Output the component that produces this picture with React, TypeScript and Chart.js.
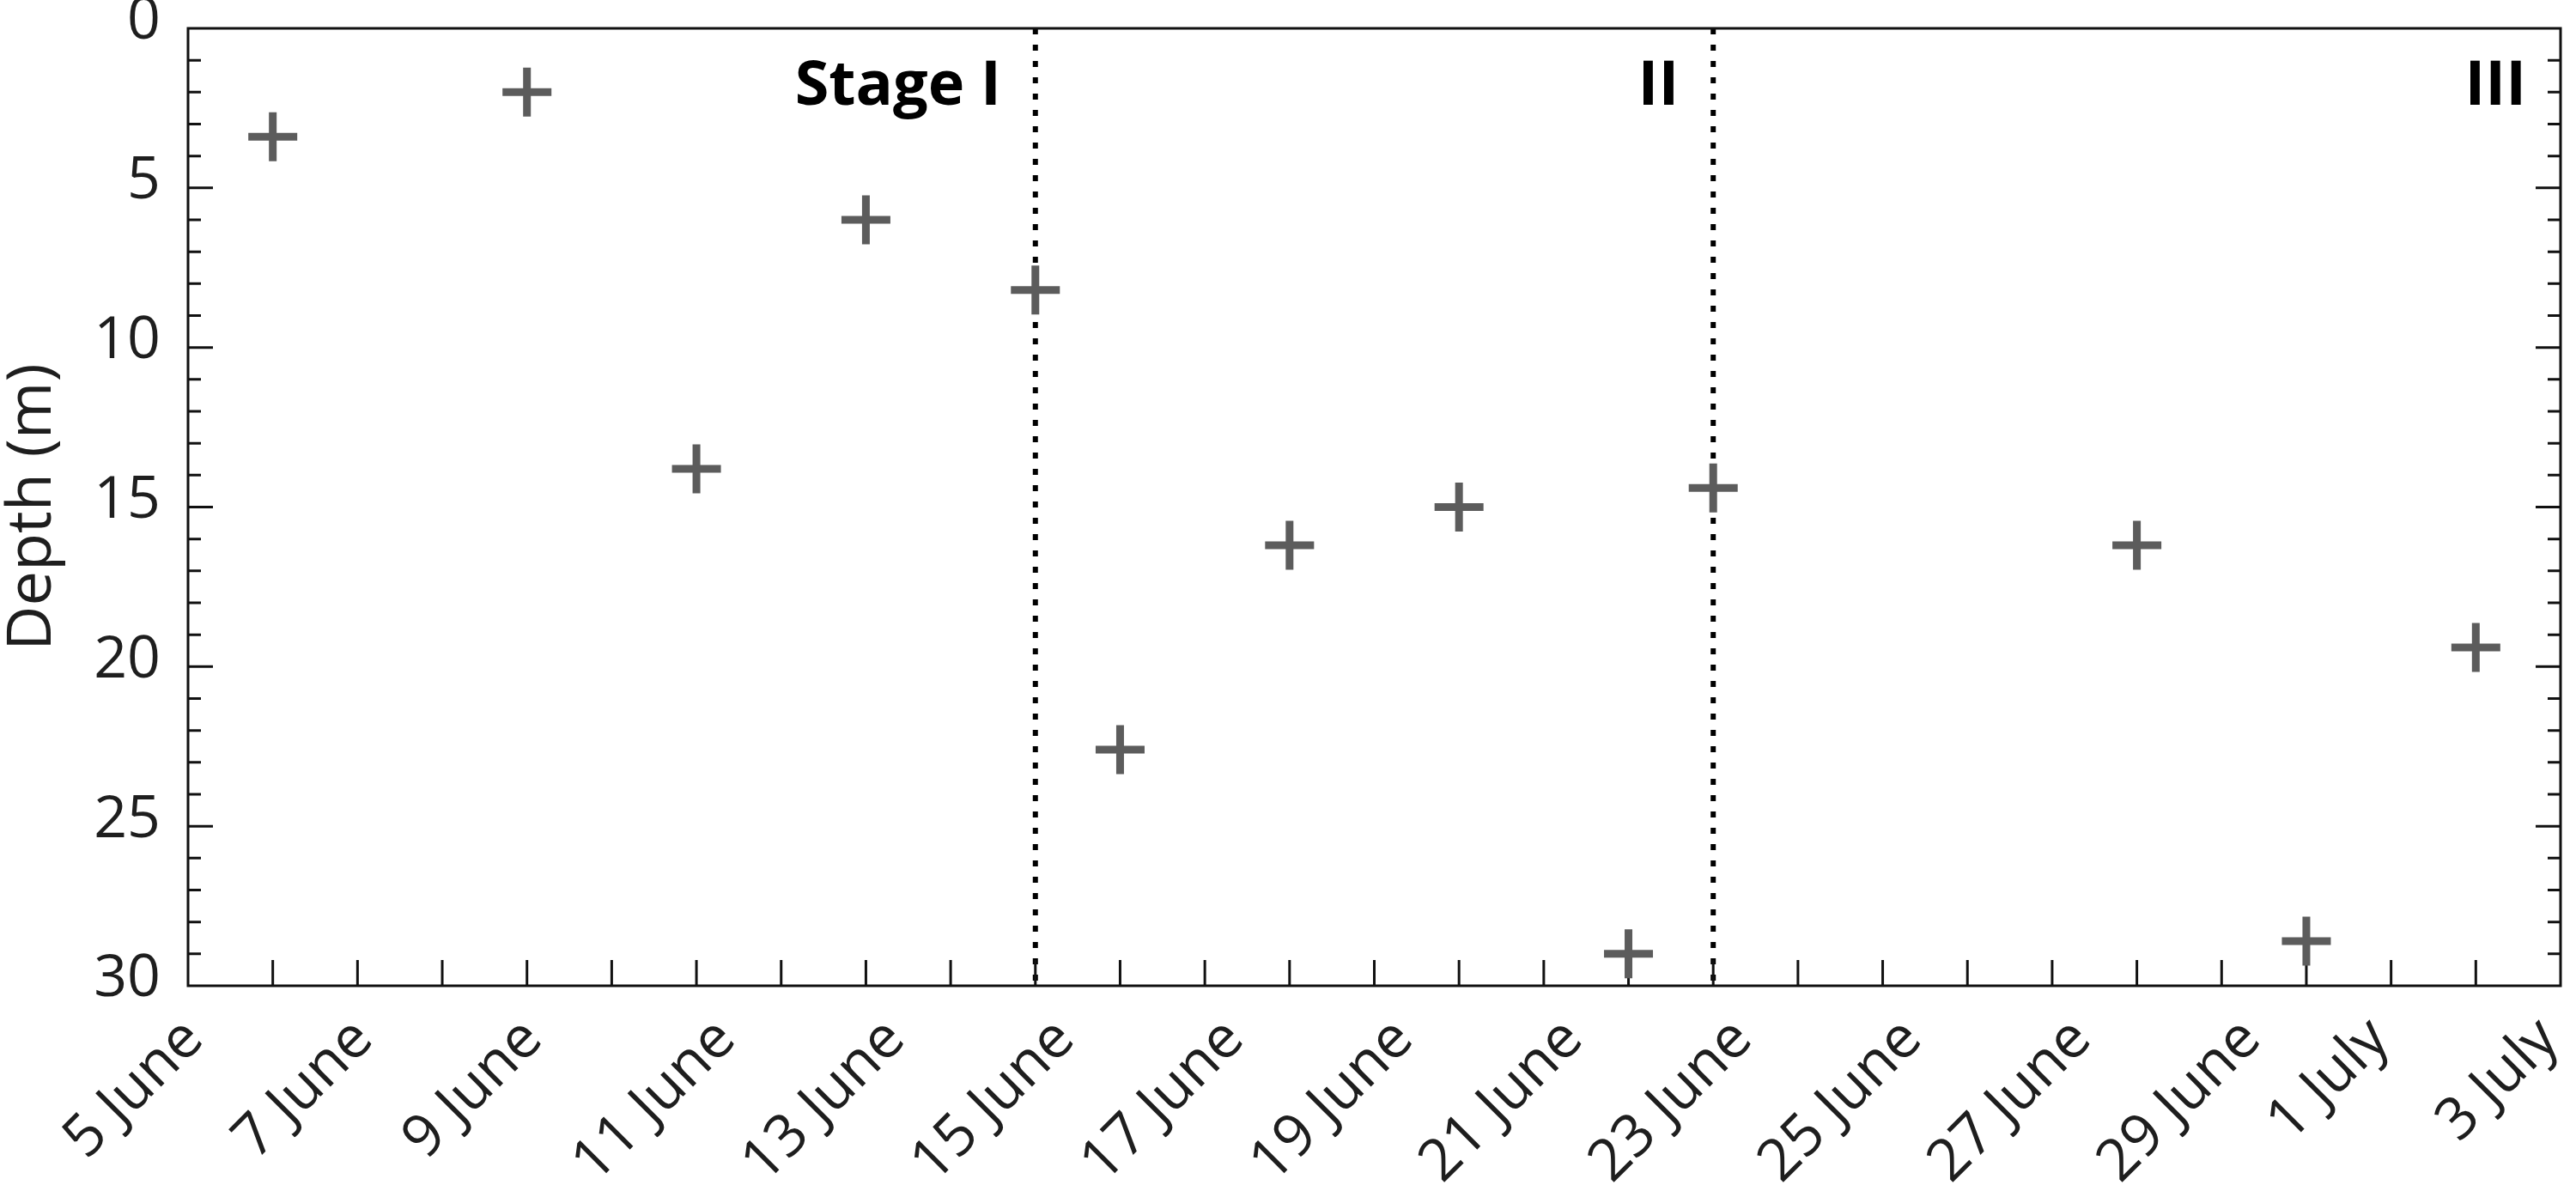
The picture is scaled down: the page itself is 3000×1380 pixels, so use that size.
import React, { useEffect, useRef } from 'react';
import { Chart, registerables } from 'chart.js';

Chart.register(...registerables);

// All calendar days on the x axis (category axis)
const days = [
  '5 June', '6 June', '7 June', '8 June', '9 June', '10 June', '11 June', '12 June',
  '13 June', '14 June', '15 June', '16 June', '17 June', '18 June', '19 June', '20 June',
  '21 June', '22 June', '23 June', '24 June', '25 June', '26 June', '27 June', '28 June',
  '29 June', '30 June', '1 July', '2 July', '3 July',
];

// Days that carry a tick label
const tickLabels = [
  '5 June', '7 June', '9 June', '11 June', '13 June', '15 June', '17 June', '19 June',
  '21 June', '23 June', '25 June', '27 June', '29 June', '1 July', '3 July',
];

// Sampling dates and depths (m)
const sampleDates = [
  '6 June', '9 June', '11 June', '13 June', '15 June', '16 June', '18 June',
  '20 June', '22 June', '23 June', '28 June', '30 June', '2 July',
];
const depths = [3.4, 2.0, 13.8, 6.0, 8.2, 22.6, 16.2, 15.0, 29.0, 14.4, 16.2, 28.6, 19.4];

// Stages
const stageNames = ['Stage I', 'II', 'III'];
const stageEnds = ['15 June', '23 June', '3 July'];
const stageBoundaries = ['15 June', '23 June'];

// Depth axis
const depthMin = 0;
const depthMax = 30;
const depthMajor = 5;
const depthMinor = 1;

const FONT = '"Open Sans", "Noto Sans", sans-serif';
const TEXT = '#1e1e1e';

const framePlugin = {
  id: 'frameAndStages',
  beforeDatasetsDraw(chart: any) {
    const { ctx, chartArea: a, scales } = chart;
    const xs = scales.x;
    const ys = scales.y;
    ctx.save();

    // dotted stage boundaries
    ctx.strokeStyle = '#000';
    ctx.lineWidth = 6;
    ctx.setLineDash([7, 12]);
    for (const b of stageBoundaries) {
      const px = xs.getPixelForValue(days.indexOf(b));
      ctx.beginPath();
      ctx.moveTo(px, a.top);
      ctx.lineTo(px, a.bottom);
      ctx.stroke();
    }
    ctx.setLineDash([]);

    // inward ticks
    ctx.strokeStyle = '#111';
    ctx.lineWidth = 3;
    ctx.beginPath();
    for (let i = 1; i < days.length - 1; i++) {
      const px = xs.getPixelForValue(i);
      ctx.moveTo(px, a.bottom);
      ctx.lineTo(px, a.bottom - 30);
    }
    for (let v = depthMin + depthMinor; v < depthMax; v += depthMinor) {
      const len = v % depthMajor === 0 ? 29 : 15;
      const py = ys.getPixelForValue(v);
      ctx.moveTo(a.left, py);
      ctx.lineTo(a.left + len, py);
      ctx.moveTo(a.right, py);
      ctx.lineTo(a.right - len, py);
    }
    ctx.stroke();

    // frame
    ctx.lineWidth = 3;
    ctx.strokeRect(a.left, a.top, a.right - a.left, a.bottom - a.top);

    // stage labels
    ctx.fillStyle = '#000';
    ctx.font = `bold 72px ${FONT}`;
    ctx.textAlign = 'right';
    ctx.textBaseline = 'alphabetic';
    stageNames.forEach((name, i) => {
      const px = xs.getPixelForValue(days.indexOf(stageEnds[i]));
      ctx.fillText(name, px - 40, a.top + 89);
    });

    // rotated date labels (start of each label sits at a fixed offset from its tick)
    ctx.fillStyle = TEXT;
    ctx.font = `68px ${FONT}`;
    ctx.textAlign = 'left';
    ctx.textBaseline = 'alphabetic';
    for (const lbl of tickLabels) {
      const px = xs.getPixelForValue(days.indexOf(lbl));
      const w = ctx.measureText(lbl).width;
      const sx = px - 118;
      const sy = a.bottom + 65 + w * Math.SQRT1_2;
      ctx.save();
      ctx.translate(sx, sy);
      ctx.rotate(-Math.PI / 4);
      ctx.fillText(lbl, 0, 0);
      ctx.restore();
    }

    ctx.restore();
  },
};

const zeroPadding = (scale: any) => {
  scale.paddingLeft = 0;
  scale.paddingRight = 0;
  scale.paddingTop = 0;
  scale.paddingBottom = 0;
};

export default function App() {
  const canvasRef = useRef<HTMLCanvasElement | null>(null);

  useEffect(() => {
    if (!canvasRef.current) return;
    const chart = new Chart(canvasRef.current, {
      type: 'scatter',
      data: {
        labels: days,
        datasets: [
          {
            label: 'Depth',
            data: sampleDates.map((d, i) => ({ x: d as any, y: depths[i] })),
            pointStyle: 'cross',
            pointRadius: 28.5,
            pointHoverRadius: 28.5,
            borderWidth: 9,
            pointBorderWidth: 9,
            borderColor: '#5c5c5c',
            backgroundColor: '#5c5c5c',
            showLine: false,
            clip: false,
          },
        ],
      },
      options: {
        animation: false,
        responsive: false,
        devicePixelRatio: 1,
        events: [],
        layout: { autoPadding: false, padding: { top: 33, right: 18, bottom: 0, left: 0 } },
        plugins: {
          legend: { display: false },
          tooltip: { enabled: false },
        },
        scales: {
          x: {
            type: 'category',
            offset: false,
            grid: { display: false, drawTicks: false },
            border: { display: false },
            ticks: { display: false, autoSkip: false },
            afterFit: (scale: any) => {
              scale.height = 232;
              zeroPadding(scale);
            },
          },
          y: {
            type: 'linear',
            reverse: true,
            min: depthMin,
            max: depthMax,
            grid: { display: false, drawTicks: false },
            border: { display: false },
            ticks: {
              stepSize: depthMajor,
              padding: 32,
              labelOffset: -7,
              color: TEXT,
              font: { family: FONT, size: 68 },
            },
            title: {
              display: true,
              text: 'Depth (m)',
              color: TEXT,
              font: { family: FONT, size: 72, lineHeight: 1 },
              padding: { top: 2, bottom: 0 },
            },
            afterFit: (scale: any) => {
              scale.width = 219;
              zeroPadding(scale);
            },
          },
        },
      },
      plugins: [framePlugin],
    });
    return () => chart.destroy();
  }, []);

  return (
    <div style={{ position: 'fixed', left: 0, top: 0, width: 3000, height: 1380, background: '#fff' }}>
      <canvas ref={canvasRef} width={3000} height={1380} style={{ width: 3000, height: 1380, display: 'block' }} />
    </div>
  );
}
